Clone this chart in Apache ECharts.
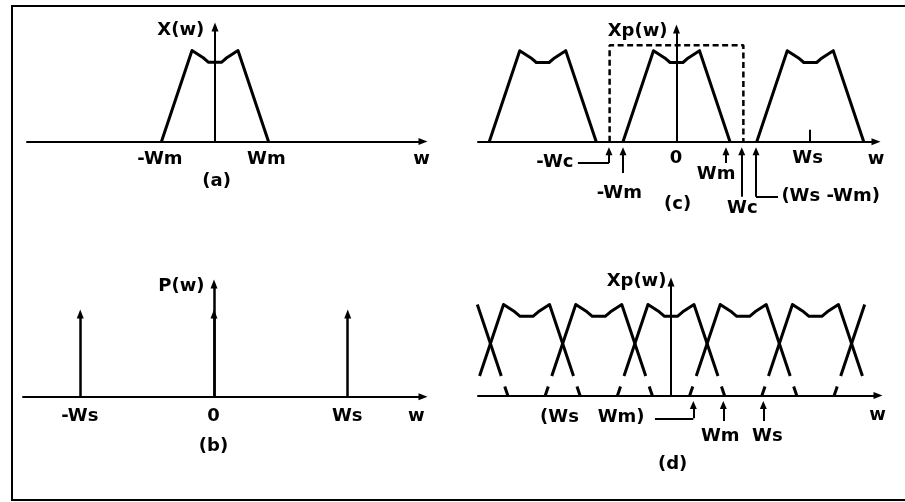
<!DOCTYPE html>
<html><head><meta charset="utf-8">
<script src="https://cdn.jsdelivr.net/npm/echarts/dist/echarts.min.js"></script>
<style>html,body{margin:0;padding:0;background:#fff}#c{width:905px;height:502px}</style>
</head><body><div id="c"></div>
<script>
// ---------- DATA (units: Wm = 1, spectrum peak height = 1) ----------
// one copy of X(w)
const shapeX = [-1, -0.43, -0.22, -0.12, 0.12, 0.22, 0.43, 1];
const shapeY = [0, 1, 0.92, 0.87, 0.87, 0.92, 1, 0];
// copy as drawn in (d): edges broken just above the axis
const dShapeX = [-1, -0.943, null, -0.878, -0.43, -0.22, -0.12, 0.12, 0.22, 0.43, 0.878, null, 0.943, 1];
const dShapeY = [0, 0.1, null, 0.214, 1, 0.92, 0.87, 0.87, 0.92, 1, 0.214, null, 0.1, 0];

// (a)
const aCenters = [0];
const aLabels = [["X(w)", -0.19, 1.214, "right"], ["-Wm", -1.02, -0.203], ["Wm", 0.97, -0.203], ["w", 3.87, -0.203], ["(a)", 0.04, -0.445]];
const aYAxisTop = 1.258;

// (b)
const bImpulseX = [-2.5, 0, 2.5];
const bImpulseY = [0.91, 0.91, 0.91];
const bLabels = [["P(w)", -0.168, 1.205, "right"], ["-Ws", -2.5, -0.223], ["0", 0, -0.223], ["Ws", 2.5, -0.223], ["w", 3.79, -0.223], ["(b)", 0, -0.553]];
const bYAxisTop = 1.238;

// (c)
const cCenters = [-2.5, 0, 2.5];
const cWc = 1.25;
const cFilterH = 1.06;
const cWsTick = [2.5, 0.13];
const cLabels = [["Xp(w)", -0.159, 1.21, "right"], ["-Wc", -1.916, -0.234, "right"], ["-Wm", -1.06, -0.574], ["0", 0, -0.185],
  ["Wm", 0.75, -0.36], ["Wc", 1.24, -0.742], ["(Ws -Wm)", 1.97, -0.609, "left"], ["Ws", 2.46, -0.185], ["w", 3.74, -0.2], ["(c)", 0.03, -0.69]];
const cArrows = [
  [[-1.843, -0.234], [-1.262, -0.234], [-1.262, -0.105]],
  [[-1.0, -0.345], [-1.0, -0.105]],
  [[0.925, -0.234], [0.925, -0.105]],
  [[1.22, -0.606], [1.22, -0.105]],
  [[1.897, -0.606], [1.486, -0.606], [1.486, -0.105]]
];
const cYAxisTop = 1.238;

// (d)
const dCenters = [-4.05, -2.7, -1.35, 0, 1.35, 2.7, 4.05];
const dWindow = [-3.63, 3.63];
const dLabels = [["Xp(w)", -0.075, 1.25, "right"], ["(Ws   Wm)", -0.486, -0.25, "right"], ["Wm", 0.93, -0.453], ["Ws", 1.81, -0.453], ["w", 3.87, -0.225], ["(d)", 0.04, -0.758]];
const dArrows = [
  [[-0.3, -0.25], [0.417, -0.25], [0.417, -0.104]],
  [[0.978, -0.28], [0.978, -0.104]],
  [[1.725, -0.28], [1.725, -0.104]]
];
const dYAxisTop = 1.247;

// ---------- LAYOUT ----------
const grids = [
  {left: 27, top: 20, width: 396, height: 180, x: [-3.514, 3.888], y: [-0.643, 1.335]},
  {left: 23, top: 270, width: 400, height: 200, x: [-3.570, 3.907], y: [-0.805, 1.392]},
  {left: 478, top: 20, width: 398, height: 210, x: [-3.710, 3.729], y: [-0.970, 1.337]},
  {left: 478, top: 270, width: 400, height: 220, x: [-3.607, 3.869], y: [-1.038, 1.379]}
];
const BLACK = '#000';
const FONT = 'DejaVu Sans';

function lineSeries(gi, pts, extra) {
  return Object.assign({
    type: 'line', xAxisIndex: gi, yAxisIndex: gi, data: pts, symbol: 'none', showSymbol: false,
    lineStyle: {color: BLACK, width: 3, join: 'round'}, silent: true, animation: false, clip: false, z: 3
  }, extra || {});
}
function copyPolylines(center, sx, sy, win) {
  const out = []; let cur = [];
  for (let i = 0; i < sx.length; i++) {
    if (sx[i] === null) { if (cur.length > 1) out.push(cur); cur = []; continue; }
    const x = center + sx[i];
    if (win && (x < win[0] || x > win[1])) { if (cur.length > 1) out.push(cur); cur = []; continue; }
    cur.push([x, sy[i]]);
  }
  if (cur.length > 1) out.push(cur);
  return out;
}
const LABEL_STYLE = {color: BLACK, fontFamily: FONT, fontWeight: 'bold', fontSize: 18, textBorderWidth: 0, opacity: 1};
function labelSeries(gi, labels) {
  return {
    type: 'scatter', xAxisIndex: gi, yAxisIndex: gi, symbolSize: 1, silent: true, animation: false, clip: false,
    itemStyle: {color: 'rgba(0,0,0,0)'}, z: 5,
    label: Object.assign({show: true, position: [0, 0]}, LABEL_STYLE),
    data: labels.map(l => ({
      value: [l[1], l[2]],
      label: Object.assign({show: true, formatter: l[0], position: [0, 0], align: l[3] || 'center', verticalAlign: 'middle'}, LABEL_STYLE)
    }))
  };
}
function seg(a, b, arrow, size) {
  return [{coord: a, symbol: 'none'}, {coord: b, symbol: arrow ? 'triangle' : 'none', symbolSize: size || [7, 8]}];
}
function markLines(segs, width) {
  return {silent: true, animation: false, symbol: ['none', 'none'], label: {show: false},
    lineStyle: {color: BLACK, width: width || 2, type: 'solid'}, emphasis: {disabled: true}, data: segs};
}
function arrowSegs(polys) {
  const out = [];
  polys.forEach(pl => { for (let i = 0; i < pl.length - 1; i++) out.push(seg(pl[i], pl[i + 1], i === pl.length - 2)); });
  return out;
}

const series = [];
// (a)
aCenters.forEach(c => copyPolylines(c, shapeX, shapeY).forEach(p => series.push(lineSeries(0, p))));
series.push(Object.assign(labelSeries(0, aLabels), {markLine: markLines([seg([0, 0], [0, aYAxisTop], true, [7, 9])], 2)}));
// (b)
const bSegs = [seg([0, 0], [0, bYAxisTop], true, [7, 9])];
bImpulseX.forEach((x, i) => bSegs.push(seg([x, 0], [x, bImpulseY[i]], true, [7, 9])));
series.push(Object.assign(labelSeries(1, bLabels), {markLine: markLines(bSegs, 2.5)}));
// (c)
cCenters.forEach(c => copyPolylines(c, shapeX, shapeY).forEach(p => series.push(lineSeries(2, p))));
series.push(lineSeries(2, [[-cWc, 0], [-cWc, cFilterH], [cWc, cFilterH], [cWc, 0]], {lineStyle: {color: BLACK, width: 2.5, type: [6, 3.5]}}));
const cSegs = [seg([0, 0], [0, cYAxisTop], true, [7, 9]), seg([cWsTick[0], 0], [cWsTick[0], cWsTick[1]], false)].concat(arrowSegs(cArrows));
series.push(Object.assign(labelSeries(2, cLabels), {markLine: markLines(cSegs, 2)}));
// (d)
dCenters.forEach(c => copyPolylines(c, dShapeX, dShapeY, dWindow).forEach(p => series.push(lineSeries(3, p))));
const dSegs = [seg([0, 0], [0, dYAxisTop], true, [7, 9])].concat(arrowSegs(dArrows));
series.push(Object.assign(labelSeries(3, dLabels), {markLine: markLines(dSegs, 2)}));

const option = {
  animation: false,
  backgroundColor: '#fff',
  grid: grids.map(g => ({left: g.left, top: g.top, width: g.width, height: g.height, containLabel: false, outerBoundsMode: 'none'})),
  xAxis: grids.map((g, i) => ({
    type: 'value', gridIndex: i, min: g.x[0], max: g.x[1],
    axisLine: {show: true, onZero: true, symbol: ['none', 'triangle'], symbolSize: [7, 9], lineStyle: {color: BLACK, width: 2}},
    axisTick: {show: false}, axisLabel: {show: false}, splitLine: {show: false}
  })),
  yAxis: grids.map((g, i) => ({
    type: 'value', gridIndex: i, min: g.y[0], max: g.y[1],
    axisLine: {show: false}, axisTick: {show: false}, axisLabel: {show: false}, splitLine: {show: false}
  })),
  graphic: [{type: 'rect', shape: {x: 12, y: 6, width: 905, height: 494}, style: {fill: 'none', stroke: BLACK, lineWidth: 2}, silent: true}],
  series: series
};
echarts.init(document.getElementById('c'), null, {renderer: 'canvas'}).setOption(option);
</script>
</body></html>
